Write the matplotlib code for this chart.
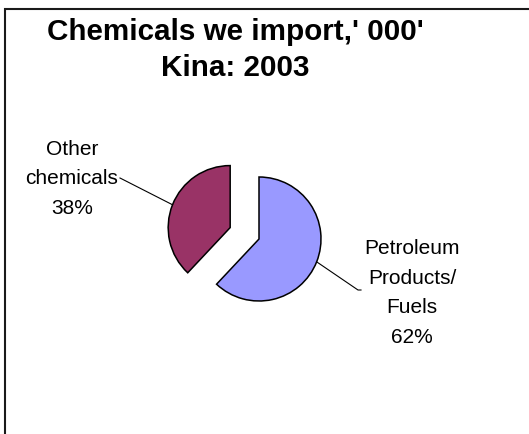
import math
import matplotlib.pyplot as plt
from matplotlib.patches import Rectangle

plt.rcParams['font.family'] = ['Liberation Sans', 'DejaVu Sans']

categories = ['Petroleum\nProducts/\nFuels', 'Other\nchemicals']
shares = [62, 38]
colors = ['#9999FF', '#993366']

W, H = 529, 434
fig = plt.figure(figsize=(W / 100, H / 100), dpi=100)
ax = fig.add_axes([0, 0, 1, 1])

R = 62
cx, cy = 259, H - 239
pull = [0, 31]

wedges, _ = ax.pie(shares, colors=colors, startangle=90, counterclock=False,
                   radius=R, center=(cx, cy), explode=pull,
                   wedgeprops=dict(edgecolor='black', linewidth=1.1))

ax.set_xlim(0, W)
ax.set_ylim(0, H)
ax.set_aspect('equal')
ax.axis('off')

# chart border (runs off the right and bottom edges)
ax.add_patch(Rectangle((5, -20), W + 40, H - 5 + 20 - 4, fill=False,
                       edgecolor='#1a1a1a', linewidth=1.5, clip_on=False))

fig.text(235 / W, 1 - 50 / H, "Chemicals we import,' 000'\nKina: 2003",
         ha='center', va='center', fontsize=21.3, fontweight='bold',
         linespacing=1.4)

# label placement: text centre, leader end point
label_pos = [((412, 293), [(361, 290), (358, 290)]),
             ((72, 179), [(120, 178)])]

for w, cat, pct, (tpos, leader) in zip(wedges, categories, shares, label_pos):
    mid = math.radians((w.theta1 + w.theta2) / 2)
    x0, y0 = w.center
    ex = x0 + w.r * math.cos(mid)
    ey = y0 + w.r * math.sin(mid)
    xs = [p[0] for p in leader] + [ex]
    ys = [H - p[1] for p in leader] + [ey]
    ax.plot(xs, ys, color='black', linewidth=0.8)
    ax.text(tpos[0], H - tpos[1], f'{cat}\n{pct}%', ha='center', va='center',
            fontsize=15, linespacing=1.7)

fig.savefig('out.png', dpi=100)
